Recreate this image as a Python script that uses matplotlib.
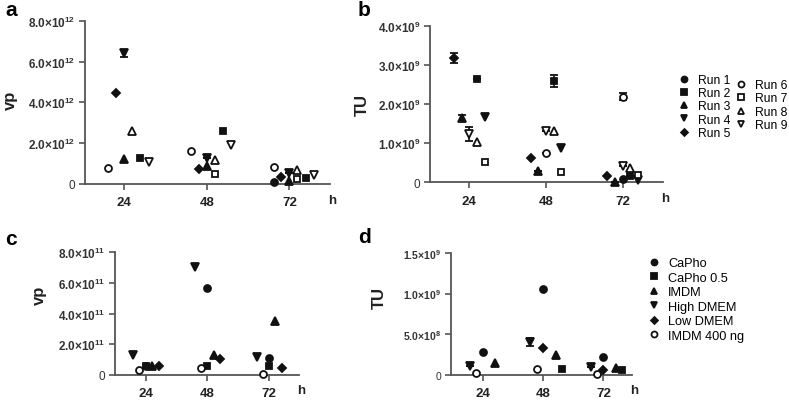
import numpy as np
import matplotlib
matplotlib.use("Agg")
import matplotlib.pyplot as plt
from matplotlib.lines import Line2D

plt.rcParams['font.family'] = ['Liberation Sans', 'DejaVu Sans']
plt.rcParams['mathtext.fontset'] = 'custom'
plt.rcParams['mathtext.rm'] = 'Liberation Sans'
plt.rcParams['mathtext.bf'] = 'Liberation Sans:bold'

nan = np.nan
hours = [24, 48, 72]

# Panel a: vp (x10^12) per run
runs = ["Run 1", "Run 2", "Run 3", "Run 4", "Run 5", "Run 6", "Run 7", "Run 8", "Run 9"]
a_vals = {
    "Run 1": [nan, nan, 0.08],
    "Run 2": [1.26, 2.61, 0.29],
    "Run 3": [1.23, 0.90, 0.16],
    "Run 4": [6.40, 1.26, 0.54],
    "Run 5": [4.45, 0.74, 0.36],
    "Run 6": [0.78, 1.63, 0.82],
    "Run 7": [nan, 0.50, 0.25],
    "Run 8": [2.61, 1.19, 0.69],
    "Run 9": [1.06, 1.91, 0.44],
}
a_err = {"Run 4": [0.17, 0, 0]}

# Panel b: TU (x10^9) per run
b_vals = {
    "Run 1": [nan, nan, 0.08],
    "Run 2": [2.65, 2.60, 0.15],
    "Run 3": [1.65, 0.28, 0.02],
    "Run 4": [1.67, 0.88, 0.05],
    "Run 5": [3.18, 0.62, 0.15],
    "Run 6": [nan, 0.75, 2.20],
    "Run 7": [0.51, 0.26, 0.20],
    "Run 8": [1.04, 1.32, 0.37],
    "Run 9": [1.24, 1.31, 0.43],
}
b_err = {"Run 5": [0.13, 0, 0], "Run 3": [0.08, 0, 0], "Run 9": [0.17, 0, 0],
         "Run 2": [0, 0.15, 0], "Run 6": [0, 0, 0.09]}

# Panels c and d: conditions
conds = ["CaPho", "CaPho 0.5", "IMDM", "High DMEM", "Low DMEM", "IMDM 400 ng"]
c_vals = {  # vp x10^11
    "CaPho": [0.59, 5.65, 1.07],
    "CaPho 0.5": [0.55, 0.55, 0.59],
    "IMDM": [0.59, 1.29, 3.49],
    "High DMEM": [1.31, 7.02, 1.14],
    "Low DMEM": [0.57, 1.03, 0.42],
    "IMDM 400 ng": [0.31, 0.42, 0.05],
}
d_vals = {  # TU x10^9
    "CaPho": [0.28, 1.06, 0.22],
    "CaPho 0.5": [nan, 0.07, 0.06],
    "IMDM": [0.14, 0.24, 0.08],
    "High DMEM": [0.11, 0.40, 0.10],
    "Low DMEM": [nan, 0.33, 0.06],
    "IMDM 400 ng": [0.02, 0.07, 0.01],
}
d_err = {"High DMEM": [0, 0.05, 0]}

# marker styles (marker, filled)
run_style = {
    "Run 1": ("o", True), "Run 2": ("s", True), "Run 3": ("^", True),
    "Run 4": ("v", True), "Run 5": ("D", True), "Run 6": ("o", False),
    "Run 7": ("s", False), "Run 8": ("^", False), "Run 9": ("v", False),
}
cond_style = {
    "CaPho": ("o", True), "CaPho 0.5": ("s", True), "IMDM": ("^", True),
    "High DMEM": ("v", True), "Low DMEM": ("D", True), "IMDM 400 ng": ("o", False),
}
# horizontal jitter of each series around the time point (hours)
a_off = {"Run 1": -4.5, "Run 6": -4.5, "Run 5": -2.3, "Run 3": 0, "Run 4": 0,
         "Run 7": 2.3, "Run 8": 2.3, "Run 2": 4.8, "Run 9": 7.2}
b_off = {"Run 5": -4.8, "Run 3": -2.4, "Run 1": 0, "Run 6": 0, "Run 9": 0,
         "Run 2": 2.4, "Run 8": 2.4, "Run 4": 4.8, "Run 7": 4.8}
c_off = {"High DMEM": -4.8, "IMDM 400 ng": -2.5, "CaPho": 0, "CaPho 0.5": 0,
         "IMDM": 2.5, "Low DMEM": 5}
d_off = {"High DMEM": -5, "IMDM 400 ng": -2.5, "CaPho": 0, "Low DMEM": 0,
         "IMDM": 5, "CaPho 0.5": 7.5}

INK = "#111111"
GREY = "#555555"


def msize(m):
    return {"o": 5, "s": 5, "^": 5.2, "v": 5.2, "D": 4.2}[m]


def draw(ax, vals, styles, offs, scale, err=None):
    for name, ys in vals.items():
        m, filled = styles[name]
        x = np.array(hours) + offs[name]
        y = np.array(ys) * scale
        e = None
        if err and name in err:
            e = np.array(err[name]) * scale
        ax.errorbar(x, y, yerr=e, fmt=m, ms=msize(m), mfc=INK if filled else "white",
                    mec=INK, mew=1.3, ecolor=INK, elinewidth=1.2, capsize=3,
                    capthick=1.2, clip_on=False, zorder=3)


def style_axes(ax, xlim, ymax, yticks, ylabels, ylab, tick_fs):
    ax.set_xlim(*xlim)
    ax.set_ylim(0, ymax)
    for s in ["top", "right"]:
        ax.spines[s].set_visible(False)
    for s in ["left", "bottom"]:
        ax.spines[s].set_color(GREY)
        ax.spines[s].set_linewidth(1.3)
    ax.set_xticks(hours)
    ax.set_xticklabels([str(h) for h in hours], fontsize=9.5, fontweight="bold", color="#222222")
    ax.set_yticks(yticks)
    ax.set_yticklabels(ylabels, fontsize=tick_fs, color="#333333")
    ax.tick_params(axis="both", direction="out", length=4, width=1.2, color=GREY)
    ax.tick_params(axis="x", pad=5)
    ax.tick_params(axis="y", pad=3)
    ax.set_ylabel(ylab, fontsize=12, fontweight="bold", color="#222222")
    ax.annotate("h", xy=(1, 0), xycoords="axes fraction", xytext=(-1, -7),
                textcoords="offset points", ha="left", va="top",
                fontsize=9.5, fontweight="bold", color="#222222")


def sci(m, e):
    return r"$\mathbf{%s{\times}10^{%s}}$" % (m, e)


fig = plt.figure(figsize=(7.89, 4.02), dpi=100)
W, H = 789.0, 402.0


def box(l, r, t, b):
    return [l / W, 1 - b / H, (r - l) / W, (b - t) / H]


ax_a = fig.add_axes(box(85, 330, 21.7, 185))
ax_b = fig.add_axes(box(430, 662.7, 27.3, 183.3))
ax_c = fig.add_axes(box(115, 299, 253.3, 375.7))
ax_d = fig.add_axes(box(450.7, 632, 254, 375.7))

draw(ax_a, a_vals, run_style, a_off, 1e12, a_err)
style_axes(ax_a, (12.7, 83.8), 8e12, [0, 2e12, 4e12, 6e12, 8e12],
           ["0", sci("2.0", 12), sci("4.0", 12), sci("6.0", 12), sci("8.0", 12)], "vp", 8.5)
ax_a.yaxis.set_label_coords(-0.275, 0.52)

draw(ax_b, b_vals, run_style, b_off, 1e9, b_err)
style_axes(ax_b, (11.7, 84.5), 4e9, [0, 1e9, 2e9, 3e9, 4e9],
           ["0", sci("1.0", 9), sci("2.0", 9), sci("3.0", 9), sci("4.0", 9)], "TU", 8.5)
ax_b.yaxis.set_label_coords(-0.26, 0.5)

draw(ax_c, c_vals, cond_style, c_off, 1e11)
style_axes(ax_c, (12, 83.7), 8e11, [0, 2e11, 4e11, 6e11, 8e11],
           ["0", sci("2.0", 11), sci("4.0", 11), sci("6.0", 11), sci("8.0", 11)], "vp", 8.5)
ax_c.yaxis.set_label_coords(-0.37, 0.66)

draw(ax_d, d_vals, cond_style, d_off, 1e9, d_err)
style_axes(ax_d, (11.3, 83.4), 1.5e9, [0, 0.5e9, 1.0e9, 1.5e9],
           ["0", sci("5.0", 8), sci("1.0", 9), sci("1.5", 9)], "TU", 7.5)
ax_d.yaxis.set_label_coords(-0.35, 0.64)

# panel letters
for lx, ly, s in [(5, 10, "a"), (358, 10, "b"), (5, 240, "c"), (358, 238, "d")]:
    fig.text(lx / W, 1 - ly / H, s, fontsize=15, fontweight="bold", va="center", ha="left")


def handles(names, styles):
    out = []
    for n in names:
        m, filled = styles[n]
        out.append(Line2D([], [], ls="none", marker=m, ms=msize(m) - 0.7,
                          mfc=INK if filled else "white", mec=INK, mew=1.3, label=n))
    return out


leg_kw = dict(frameon=False, borderpad=0, borderaxespad=0, handlelength=0.8,
              handletextpad=0.75, loc="upper left")
fig.legend(handles=handles(runs[:5], run_style), fontsize=8.7, labelspacing=0.1,
           bbox_to_anchor=(679 / W, 1 - 75 / H), **leg_kw)
fig.legend(handles=handles(runs[5:], run_style), fontsize=8.7, labelspacing=0.12,
           bbox_to_anchor=(736 / W, 1 - 80 / H), **leg_kw)
fig.legend(handles=handles(conds, cond_style), fontsize=9.2, labelspacing=0.2,
           bbox_to_anchor=(648.5 / W, 1 - 258 / H), **leg_kw)

fig.savefig("out.png", dpi=100)
